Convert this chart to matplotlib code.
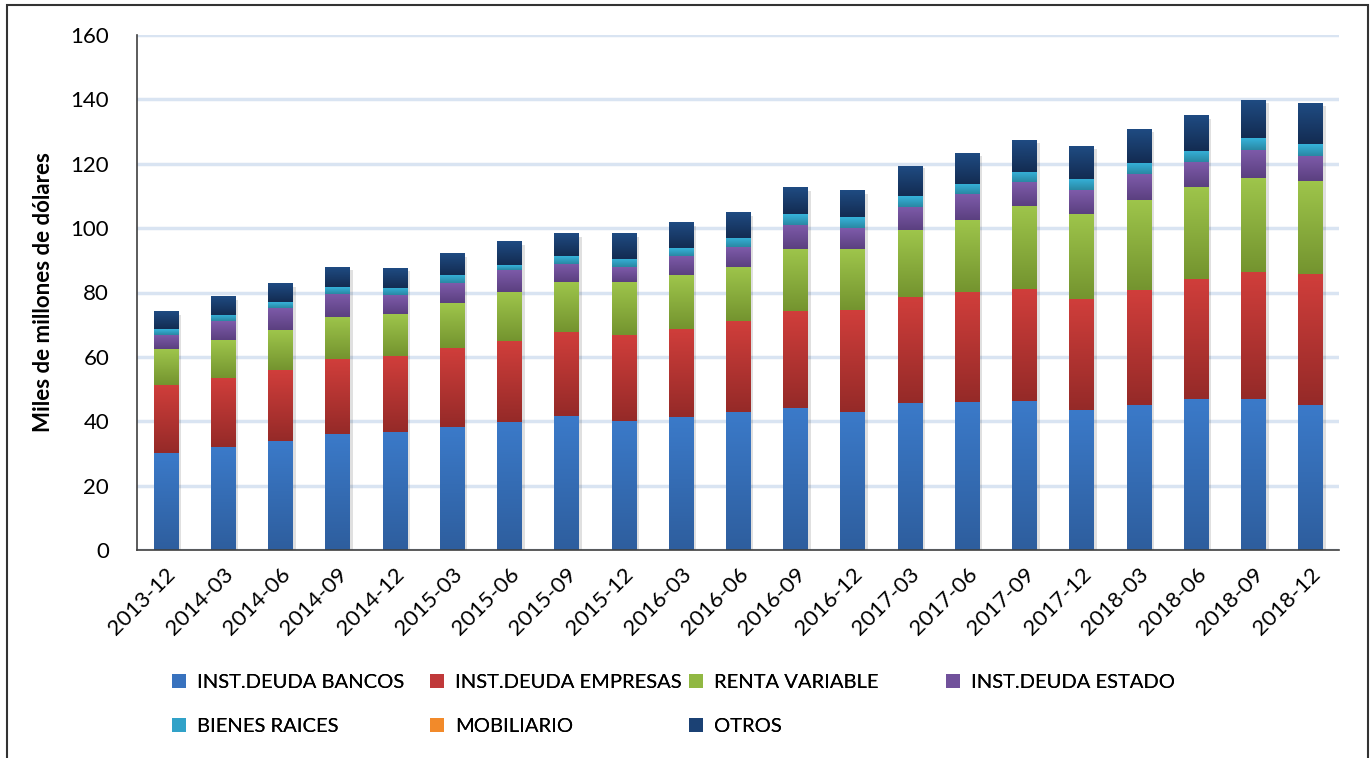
import numpy as np
import matplotlib
matplotlib.use("Agg")
import matplotlib.pyplot as plt
from matplotlib.colors import LinearSegmentedColormap
from matplotlib.patches import Rectangle, Patch
import matplotlib.patheffects as pe

plt.rcParams['font.family'] = ['Lato', 'DejaVu Sans']

periods = ["2013-12", "2014-03", "2014-06", "2014-09", "2014-12", "2015-03", "2015-06",
           "2015-09", "2015-12", "2016-03", "2016-06", "2016-09", "2016-12", "2017-03",
           "2017-06", "2017-09", "2017-12", "2018-03", "2018-06", "2018-09", "2018-12"]

deuda_bancos = [30.1, 32.0, 33.9, 36.0, 36.7, 38.2, 39.8, 41.6, 40.1, 41.3, 42.9,
                44.1, 42.9, 45.7, 46.0, 46.3, 43.5, 45.1, 46.9, 46.9, 45.1]
deuda_empresas = [21.2, 21.5, 22.0, 23.3, 23.6, 24.6, 25.1, 26.1, 26.7, 27.4, 28.2,
                  30.1, 31.7, 33.0, 34.0, 34.8, 34.5, 35.7, 37.3, 39.5, 40.7]
renta_variable = [11.1, 11.7, 12.4, 13.1, 13.0, 13.9, 15.2, 15.6, 16.5, 16.7, 16.8,
                  19.3, 18.9, 20.8, 22.6, 25.8, 26.5, 28.0, 28.6, 29.2, 28.9]
deuda_estado = [4.4, 5.9, 7.0, 7.2, 5.9, 6.2, 6.9, 5.6, 4.6, 6.0, 6.2,
                7.5, 6.5, 7.2, 7.9, 7.3, 7.2, 7.9, 7.6, 8.8, 7.8]
bienes_raices = [1.8, 1.9, 1.7, 2.1, 2.2, 2.5, 1.5, 2.4, 2.5, 2.4, 2.8,
                 3.4, 3.4, 3.4, 3.3, 3.3, 3.6, 3.6, 3.6, 3.7, 3.7]
mobiliario = [0.0] * 21
otros = [5.3, 5.6, 5.6, 6.2, 6.2, 6.6, 7.2, 6.9, 7.8, 7.8, 7.8,
         8.1, 8.1, 9.3, 9.6, 9.7, 10.0, 10.3, 10.9, 11.5, 12.5]

series_names = ["INST.DEUDA BANCOS", "INST.DEUDA EMPRESAS", "RENTA VARIABLE",
                "INST.DEUDA ESTADO", "BIENES RAICES", "MOBILIARIO", "OTROS"]
series_values = [deuda_bancos, deuda_empresas, renta_variable, deuda_estado,
                 bienes_raices, mobiliario, otros]
# (top colour, bottom colour) for the gradient fill
grad_colors = [("#3B7AC9", "#2E5E9E"),
               ("#D03E3B", "#952A28"),
               ("#9EC54B", "#74942F"),
               ("#7E5BAA", "#5B4080"),
               ("#36B3DB", "#2A88A3"),
               ("#F99533", "#D0701A"),
               ("#1F4B82", "#132C52")]
legend_colors = ["#3872BE", "#C0393A", "#91B843", "#71519B", "#31A2C8", "#F28A2A", "#1B4174"]

W, H = 1372, 758
fig = plt.figure(figsize=(W / 100, H / 100), dpi=100)
ax = fig.add_axes([137 / W, 1 - 550 / H, (1339 - 137) / W, (550 - 35) / H])

x = np.arange(len(periods))
width = 0.42
bottom = np.zeros(len(periods))
grad = np.linspace(0, 1, 64).reshape(-1, 1)
for name, vals, (ctop, cbot), lc in zip(series_names, series_values, grad_colors, legend_colors):
    vals = np.array(vals, dtype=float)
    bars = ax.bar(x, vals, width, bottom=bottom, color=lc, linewidth=0, zorder=3,
                  path_effects=[pe.SimplePatchShadow(offset=(2.5, -2), shadow_rgbFace='#000000', alpha=0.12),
                                pe.Normal()])
    cmap = LinearSegmentedColormap.from_list(name, [cbot, ctop])
    for b, v in zip(bars, vals):
        if v <= 0:
            continue
        x0 = b.get_x()
        y0 = b.get_y()
        ax.imshow(grad, extent=(x0, x0 + b.get_width(), y0, y0 + b.get_height()),
                  origin='lower', cmap=cmap, aspect='auto', zorder=4, interpolation='bilinear')
    bottom += vals

ax.set_xlim(-0.5, len(periods) - 0.5)
ax.set_ylim(0, 160)
ax.set_yticks(np.arange(0, 161, 20))
ax.yaxis.grid(True, color='#D9E4F2', linewidth=2.5, zorder=0)
ax.set_axisbelow(True)
for s in ['top', 'right']:
    ax.spines[s].set_visible(False)
for s in ['left', 'bottom']:
    ax.spines[s].set_color('#404040')
    ax.spines[s].set_linewidth(1.2)
    ax.spines[s].set_zorder(5)
ax.tick_params(axis='both', length=0, labelsize=16, colors='black')
ax.set_xticks(x)
ax.set_xticklabels(periods, rotation=45, ha='right', rotation_mode='anchor', fontsize=16)
ax.tick_params(axis='x', pad=10)
ax.tick_params(axis='y', pad=20)
ax.set_ylabel("Miles de millones de dólares", fontsize=16, fontweight='bold', labelpad=12)

# Legend: 4 columns starting every ~258 px, 2 rows
columns = [[0, 4], [1, 5], [2, 6], [3]]
col_x = [168, 426, 685, 942]
for cx, idxs in zip(col_x, columns):
    handles = [Patch(facecolor=legend_colors[i], edgecolor='none') for i in idxs]
    labels = [series_names[i] for i in idxs]
    leg = fig.legend(handles, labels, loc='upper left',
                     bbox_to_anchor=(cx / W, 1 - 670 / H), frameon=False,
                     fontsize=14.5, handlelength=0.7, handleheight=0.7, handletextpad=0.55,
                     labelspacing=1.35, borderaxespad=0, borderpad=0.2)
    fig.add_artist(leg)

fig.patches.append(Rectangle((7 / W, -0.05), (1368 - 7) / W, 1 - 5 / H + 0.05,
                             transform=fig.transFigure, fill=False, edgecolor='#333333',
                             linewidth=1.5))

fig.savefig("out.png", dpi=100)
